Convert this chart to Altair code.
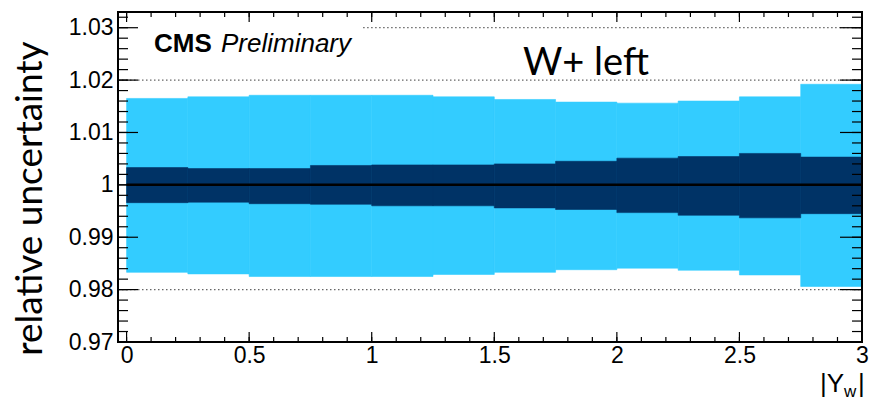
import altair as alt
import pandas as pd
import numpy as np

# ---- data ----
bin_lo = [0.0, 0.25, 0.5, 0.75, 1.0, 1.25, 1.5, 1.75, 2.0, 2.25, 2.5, 2.75]
bin_hi = [0.25, 0.5, 0.75, 1.0, 1.25, 1.5, 1.75, 2.0, 2.25, 2.5, 2.75, 3.0]
light_hi = [1.0165, 1.0168, 1.0171, 1.0171, 1.0171, 1.0168, 1.0163, 1.0158, 1.0156, 1.0160, 1.0168, 1.0192]
light_lo = [0.9833, 0.9830, 0.9825, 0.9825, 0.9825, 0.9829, 0.9833, 0.9838, 0.9841, 0.9837, 0.9828, 0.9806]
dark_hi = [1.0033, 1.0031, 1.0031, 1.0037, 1.0038, 1.0038, 1.0040, 1.0045, 1.0051, 1.0054, 1.0060, 1.0053]
dark_lo = [0.9966, 0.9967, 0.9964, 0.9963, 0.9960, 0.9960, 0.9956, 0.9953, 0.9947, 0.9942, 0.9937, 0.9945]
nominal = [1.0]

y_labels = [0.97, 0.98, 0.99, 1.0, 1.01, 1.02, 1.03]
x_labels = [0, 0.5, 1, 1.5, 2, 2.5, 3]
grid_y = [0.98, 1.02, 1.03]
grid_x0 = [-0.035, -0.035, 0.965]

y_minor = [round(v, 3) for v in np.arange(0.97, 1.0325, 0.002)]
x_minor = [round(v, 2) for v in np.arange(0.0, 3.001, 0.1)]

LIGHT = "#33ccff"
DARK = "#003366"
W, H = 744, 330

xs = alt.Scale(domain=[-0.035, 3.0], nice=False, zero=False)
ys = alt.Scale(domain=[0.97, 1.033], nice=False, zero=False)

xaxis = alt.Axis(values=x_labels, format="~g", ticks=False, domain=False, grid=False,
                 labelFont="Liberation Sans", labelFontSize=23, labelColor="black",
                 labelPadding=2, labelFlush=False, labelOverlap=False, title=None)
yaxis = alt.Axis(values=y_labels, format="~g", ticks=False, domain=False, grid=False,
                 labelFont="Liberation Sans", labelFontSize=23, labelColor="black",
                 labelPadding=5, labelFlush=False, labelOverlap=False,
                 title="relative uncertainty", titleFont="Lato", titleFontSize=37,
                 titleFontWeight="normal", titleColor="black", titleAngle=270,
                 titleX=-88, titleY=186, titleAlign="center", titleBaseline="middle")

def X(field):
    return alt.X(field, type="quantitative", scale=xs, axis=xaxis)

def Y(field):
    return alt.Y(field, type="quantitative", scale=ys, axis=yaxis)

light = pd.DataFrame({"x0": bin_lo, "x1": bin_hi, "y0": light_lo, "y1": light_hi})
dark = pd.DataFrame({"x0": bin_lo, "x1": bin_hi, "y0": dark_lo, "y1": dark_hi})

light_layer = alt.Chart(light).mark_rect(color=LIGHT, stroke=LIGHT, strokeWidth=0.6).encode(
    x=X("x0"), x2="x1", y=Y("y0"), y2="y1")
dark_layer = alt.Chart(dark).mark_rect(color=DARK, stroke=DARK, strokeWidth=0.6).encode(
    x=X("x0"), x2="x1", y=Y("y0"), y2="y1")

grid = pd.DataFrame({"y0": grid_y, "x0": grid_x0, "x1": [3.0] * len(grid_y)})
grid_layer = alt.Chart(grid).mark_rule(color="#666666", strokeWidth=1.2, strokeDash=[1.5, 2.5]).encode(
    x=X("x0"), x2="x1", y=Y("y0"))

nom = pd.DataFrame({"y0": nominal, "x0": [0.0], "x1": [3.0]})
nom_layer = alt.Chart(nom).mark_rule(color="black", strokeWidth=2.5).encode(
    x=X("x0"), x2="x1", y=Y("y0"))

ymaj = pd.DataFrame({"y0": y_labels})
ymin = pd.DataFrame({"y0": y_minor})
xmaj = pd.DataFrame({"x0": x_labels})
xmin = pd.DataFrame({"x0": x_minor})

def ytick(df, a, b):
    return alt.Chart(df).mark_rule(color="black", strokeWidth=1.2).encode(
        y=Y("y0"), x=alt.value(a), x2=alt.value(b))

def xtick(df, a, b):
    return alt.Chart(df).mark_rule(color="black", strokeWidth=1.2).encode(
        x=X("x0"), y=alt.value(a), y2=alt.value(b))

tick_layers = [
    ytick(ymaj, 0, 20), ytick(ymin, 0, 10),
    ytick(ymaj, W, W - 22), ytick(ymin, W, W - 10),
    xtick(xmaj, 0, 10), xtick(xmin, 0, 5),
    xtick(xmaj, H, H - 10), xtick(xmin, H, H - 5),
]

frame = alt.Chart(pd.DataFrame({"a": [0]})).mark_rect(
    fillOpacity=0, stroke="black", strokeWidth=2).encode(
    x=alt.value(0), x2=alt.value(W), y=alt.value(0), y2=alt.value(H))

def label(text, x, y, **kw):
    return alt.Chart(pd.DataFrame({"t": [text]})).mark_text(
        align="left", baseline="alphabetic", color="black", **kw).encode(
        text="t:N", x=alt.value(x), y=alt.value(y))

texts = [
    label("CMS", 36, 40, font="Liberation Sans", fontSize=26, fontWeight="bold"),
    label("Preliminary", 103, 40, font="Liberation Sans", fontSize=26, fontStyle="italic"),
    label("W+ left", 405, 63, font="Lato", fontSize=38),
    label("|Y", 702, 380, font="Liberation Sans", fontSize=26),
    label("w", 726, 385, font="Liberation Sans", fontSize=17),
    label("|", 740, 380, font="Liberation Sans", fontSize=26),
]

chart = alt.layer(light_layer, dark_layer, grid_layer, nom_layer, *tick_layers, frame, *texts).properties(
    width=W, height=H,
    padding={"left": 118, "top": 12, "right": 9, "bottom": 58},
    autosize=alt.AutoSizeParams(type="none"),
).configure_view(stroke=None)

chart.save("out.html", embed_options={"renderer": "svg", "actions": False})
